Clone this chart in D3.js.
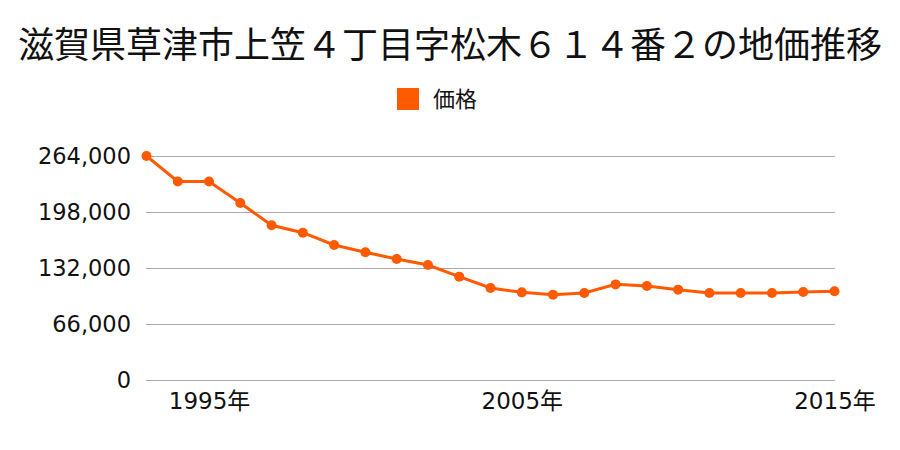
<!DOCTYPE html>
<html><head><meta charset="utf-8">
<script src="https://cdn.jsdelivr.net/npm/d3@7"></script>
<style>body{margin:0;background:#fff}svg{display:block}</style>
</head><body>
<svg id="c" width="900" height="450"></svg>
<script>
const title = "滋賀県草津市上笠４丁目字松木６１４番２の地価推移";
const seriesName = "価格";
const years = [1993,1994,1995,1996,1997,1998,1999,2000,2001,2002,2003,2004,2005,2006,2007,2008,2009,2010,2011,2012,2013,2014,2015];
const prices = [264000,234000,234000,208600,182300,173600,159100,150500,142600,135500,121800,108400,103300,100600,102500,112700,110800,106500,102500,102500,102500,103700,104500];
const yTicks = [0,66000,132000,198000,264000];
const xTickYears = [1995,2005,2015];
const xTickLabels = ["1995年","2005年","2015年"];

const cjk = "'Noto Sans CJK JP','Noto Sans',sans-serif";
const num = "'DejaVu Sans','Noto Sans CJK JP',sans-serif";
const svg = d3.select("#c");
const x = d3.scaleLinear().domain([1993,2015]).range([146.5,834.5]);
const y = d3.scaleLinear().domain([0,264000]).range([380,156]);
const color = "#ff5a00";

svg.append("text").attr("x",450).attr("y",58).attr("text-anchor","middle")
  .style("font-family",cjk).attr("font-size",36).attr("fill","#111").text(title);

svg.append("rect").attr("x",397).attr("y",88).attr("width",22).attr("height",22).attr("fill",color);
svg.append("text").attr("x",433).attr("y",107).style("font-family",cjk)
  .attr("font-size",22).attr("fill","#111").text(seriesName);

const g = svg.append("g");
g.selectAll("line.grid").data(yTicks).join("line").attr("class","grid")
  .attr("x1",146).attr("x2",835).attr("y1",d=>y(d)+0.5).attr("y2",d=>y(d)+0.5)
  .attr("stroke","#aaa").attr("stroke-width",1);

const yAxis = d3.axisLeft(y).tickValues(yTicks).tickSize(0).tickPadding(0).tickFormat(d3.format(","));
const ya = svg.append("g").attr("transform","translate(131,0)").call(yAxis);
ya.select(".domain").remove();
ya.selectAll("text").attr("fill","#111").style("font-family",num).style("font-size","22.5px");

const xAxis = d3.axisBottom(x).tickValues(xTickYears).tickSize(0).tickPadding(0)
  .tickFormat((d,i)=>xTickLabels[i]);
const xa = svg.append("g").attr("transform","translate(0,393)").call(xAxis);
xa.select(".domain").remove();
xa.selectAll("text").attr("fill","#111").style("font-family",num).style("font-size","23px");

const line = d3.line().x((d,i)=>x(years[i])).y(d=>y(d));
svg.append("path").datum(prices).attr("d",line).attr("fill","none")
  .attr("stroke",color).attr("stroke-width",3);
svg.selectAll("circle.pt").data(prices).join("circle").attr("class","pt")
  .attr("cx",(d,i)=>x(years[i])).attr("cy",d=>y(d)).attr("r",5).attr("fill",color);
</script>
</body></html>
